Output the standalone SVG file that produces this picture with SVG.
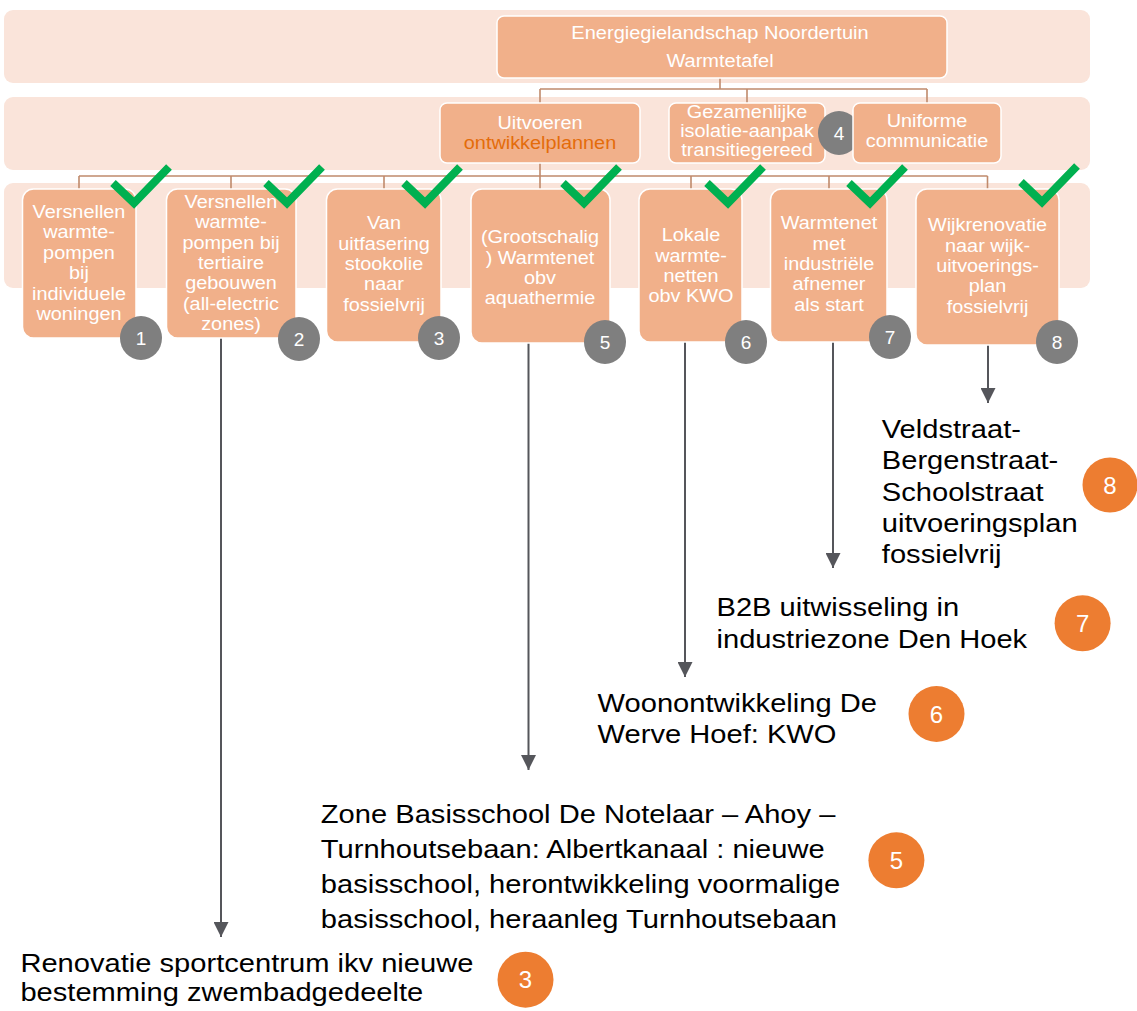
<svg xmlns="http://www.w3.org/2000/svg" width="1137" height="1011" viewBox="0 0 1137 1011">
<defs>
<style>
.band{fill:#FAE4DA}
.node{fill:#F1B08A;stroke:#FFFFFF;stroke-width:1.5}
.tree{fill:none;stroke:#C08A6C;stroke-width:1.6}
.arrow{fill:none;stroke:#55565B;stroke-width:2}
.check{fill:none;stroke:#00B050;stroke-width:8;stroke-linejoin:miter;stroke-miterlimit:10}
.gray{fill:#7F7F7F}
.orange{fill:#ED7D31}
.nt{font-family:"Liberation Sans",Arial,sans-serif;font-size:18.5px;fill:#FFFFFF;text-anchor:middle}
.tt{font-family:"Liberation Sans",Arial,sans-serif;font-size:19px;fill:#FFFFFF;text-anchor:middle}
.hl{fill:#E46C0A}
.bt{font-family:"Liberation Sans",Arial,sans-serif;font-size:26px;fill:#000000}
.gn{font-family:"Liberation Sans",Arial,sans-serif;font-size:19px;fill:#FFFFFF;text-anchor:middle}
.on{font-family:"Liberation Sans",Arial,sans-serif;font-size:24px;fill:#FFFFFF;text-anchor:middle}
</style>
<marker id="ah" viewBox="0 0 10 10" refX="10" refY="5" markerWidth="15" markerHeight="15" markerUnits="userSpaceOnUse" orient="auto">
<path d="M0,0 L10,5 L0,10 z" fill="#55565B"/>
</marker>
</defs>

<g id="bands">
<rect class="band" x="4" y="10" width="1086" height="73" rx="9"/>
<rect class="band" x="4" y="97" width="1086" height="73" rx="9"/>
<rect class="band" x="4" y="183" width="1086" height="105" rx="9"/>
</g>

<g id="connectors">
<path class="tree" d="M720,78 V89 M540,89 H927 M540,89 V103 M747,89 V103 M927,89 V103"/>
<path class="tree" d="M540,163 V176 M79,176 H987.5 M79,176 V189 M231,176 V189 M384,176 V189 M540,176 V189 M691,176 V189 M829,176 V189 M987.5,176 V189"/>
<line class="arrow" x1="221" y1="338" x2="221" y2="937" marker-end="url(#ah)"/>
<line class="arrow" x1="528.5" y1="343" x2="528.5" y2="770" marker-end="url(#ah)"/>
<line class="arrow" x1="685" y1="342" x2="685" y2="677" marker-end="url(#ah)"/>
<line class="arrow" x1="833" y1="342" x2="833" y2="568" marker-end="url(#ah)"/>
<line class="arrow" x1="988" y1="345" x2="988" y2="403" marker-end="url(#ah)"/>
</g>

<g id="node-top">
<rect class="node" x="497" y="16" width="450" height="62" rx="7"/>
<text class="tt" transform="translate(720 0) scale(1.055 1)"><tspan x="0" y="39.3">Energiegielandschap Noordertuin</tspan><tspan x="0" y="67.3">Warmtetafel</tspan></text>
</g>

<g id="node-uitvoeren">
<rect class="node" x="440" y="103" width="200" height="60" rx="7"/>
<text class="nt" transform="translate(540 0) scale(1.075 1)"><tspan x="0" y="129.5">Uitvoeren</tspan><tspan x="0" y="149.5" class="hl">ontwikkelplannen</tspan></text>
</g>

<g id="node-isolatie">
<rect class="node" x="669" y="103" width="156" height="60" rx="7"/>
<text class="nt" transform="translate(747 0) scale(1.075 1)"><tspan x="0" y="118.5">Gezamenlijke</tspan><tspan x="0" y="137.5">isolatie-aanpak</tspan><tspan x="0" y="156.5">transitiegereed</tspan></text>
<ellipse class="gray" cx="839" cy="133" rx="21" ry="22"/>
<text class="gn" x="839" y="139.8">4</text>
</g>

<g id="node-communicatie">
<rect class="node" x="853" y="103" width="148" height="60" rx="7"/>
<text class="nt" transform="translate(927 0) scale(1.075 1)"><tspan x="0" y="127">Uniforme</tspan><tspan x="0" y="147">communicatie</tspan></text>
</g>

<g id="node-1">
<rect class="node" x="22.5" y="189" width="113.5" height="149" rx="11"/>
<text class="nt" transform="translate(79 0) scale(1.075 1)"><tspan x="0" y="218">Versnellen</tspan><tspan x="0" y="238.5">warmte-</tspan><tspan x="0" y="259">pompen</tspan><tspan x="0" y="279.3">bij</tspan><tspan x="0" y="299.6">individuele</tspan><tspan x="0" y="320">woningen</tspan></text>
<polyline class="check" points="113,183 134,203 169,167"/>
<ellipse class="gray" cx="141" cy="338" rx="21" ry="22"/>
<text class="gn" x="141" y="344.8">1</text>
</g>

<g id="node-2">
<rect class="node" x="166.5" y="189" width="129.5" height="149" rx="11"/>
<text class="nt" transform="translate(231 0) scale(1.075 1)"><tspan x="0" y="208">Versnellen</tspan><tspan x="0" y="228.3">warmte-</tspan><tspan x="0" y="248.6">pompen bij</tspan><tspan x="0" y="269">tertiaire</tspan><tspan x="0" y="289.3">gebouwen</tspan><tspan x="0" y="309.6">(all-electric</tspan><tspan x="0" y="330">zones)</tspan></text>
<polyline class="check" points="266,183 287,203 322,167"/>
<ellipse class="gray" cx="299" cy="339" rx="21" ry="22"/>
<text class="gn" x="299" y="345.8">2</text>
</g>

<g id="node-3">
<rect class="node" x="326.5" y="189" width="114.5" height="153" rx="11"/>
<text class="nt" transform="translate(384 0) scale(1.075 1)"><tspan x="0" y="229.5">Van</tspan><tspan x="0" y="249.8">uitfasering</tspan><tspan x="0" y="270">stookolie</tspan><tspan x="0" y="290.3">naar</tspan><tspan x="0" y="310.6">fossielvrij</tspan></text>
<polyline class="check" points="404,183 425,203 460,167"/>
<ellipse class="gray" cx="439" cy="338" rx="21" ry="22"/>
<text class="gn" x="439" y="344.8">3</text>
</g>

<g id="node-5">
<rect class="node" x="471" y="189" width="139" height="154" rx="11"/>
<text class="nt" transform="translate(540 0) scale(1.075 1)"><tspan x="0" y="243.5">(Grootschalig</tspan><tspan x="0" y="263.8">) Warmtenet</tspan><tspan x="0" y="284">obv</tspan><tspan x="0" y="304.3">aquathermie</tspan></text>
<polyline class="check" points="563,183 584,203 619,167"/>
<ellipse class="gray" cx="605" cy="342" rx="21" ry="22"/>
<text class="gn" x="605" y="348.8">5</text>
</g>

<g id="node-6">
<rect class="node" x="639" y="189" width="103" height="153" rx="11"/>
<text class="nt" transform="translate(691 0) scale(1.075 1)"><tspan x="0" y="241.5">Lokale</tspan><tspan x="0" y="261.8">warmte-</tspan><tspan x="0" y="282">netten</tspan><tspan x="0" y="302.3">obv KWO</tspan></text>
<polyline class="check" points="707,183 728,203 763,167"/>
<ellipse class="gray" cx="746" cy="342" rx="21" ry="22"/>
<text class="gn" x="746" y="348.8">6</text>
</g>

<g id="node-7">
<rect class="node" x="770.5" y="189" width="116.5" height="153" rx="11"/>
<text class="nt" transform="translate(829 0) scale(1.075 1)"><tspan x="0" y="229.5">Warmtenet</tspan><tspan x="0" y="249.8">met</tspan><tspan x="0" y="270">industriële</tspan><tspan x="0" y="290.3">afnemer</tspan><tspan x="0" y="310.6">als start</tspan></text>
<polyline class="check" points="849,183 870,203 905,167"/>
<ellipse class="gray" cx="890" cy="337" rx="21" ry="22"/>
<text class="gn" x="890" y="343.8">7</text>
</g>

<g id="node-8">
<rect class="node" x="916" y="189" width="143" height="156" rx="11"/>
<text class="nt" transform="translate(987.5 0) scale(1.075 1)"><tspan x="0" y="231.5">Wijkrenovatie</tspan><tspan x="0" y="251.8">naar wijk-</tspan><tspan x="0" y="272">uitvoerings-</tspan><tspan x="0" y="292.3">plan</tspan><tspan x="0" y="312.6">fossielvrij</tspan></text>
<polyline class="check" points="1021,182 1042,202 1077,166"/>
<ellipse class="gray" cx="1057" cy="342" rx="21" ry="22"/>
<text class="gn" x="1057" y="348.8">8</text>
</g>

<g id="project-8">
<text class="bt" transform="translate(881.8 0) scale(1.12 1)"><tspan x="0" y="438.3">Veldstraat-</tspan><tspan x="0" y="469.5">Bergenstraat-</tspan><tspan x="0" y="500.7">Schoolstraat</tspan><tspan x="0" y="531.9">uitvoeringsplan</tspan><tspan x="0" y="563.1">fossielvrij</tspan></text>
<circle class="orange" cx="1110" cy="485" r="27.5"/>
<text class="on" x="1110" y="493.6">8</text>
</g>

<g id="project-7">
<text class="bt" transform="translate(716.5 0) scale(1.12 1)"><tspan x="0" y="616">B2B uitwisseling in</tspan><tspan x="0" y="648.3">industriezone Den Hoek</tspan></text>
<circle class="orange" cx="1082.6" cy="623.3" r="28"/>
<text class="on" x="1082.6" y="631.9">7</text>
</g>

<g id="project-6">
<text class="bt" transform="translate(597.6 0) scale(1.12 1)"><tspan x="0" y="711.7">Woonontwikkeling De</tspan><tspan x="0" y="743.3">Werve Hoef: KWO</tspan></text>
<circle class="orange" cx="936.5" cy="714" r="28"/>
<text class="on" x="936.5" y="722.6">6</text>
</g>

<g id="project-5">
<text class="bt" transform="translate(320.8 0) scale(1.12 1)"><tspan x="0" y="823.3">Zone Basisschool De Notelaar – Ahoy –</tspan><tspan x="0" y="858.1">Turnhoutsebaan: Albertkanaal : nieuwe</tspan><tspan x="0" y="892.9">basisschool, herontwikkeling voormalige</tspan><tspan x="0" y="927.7">basisschool, heraanleg Turnhoutsebaan</tspan></text>
<circle class="orange" cx="896.4" cy="860.3" r="28"/>
<text class="on" x="896.4" y="868.9">5</text>
</g>

<g id="project-3">
<text class="bt" transform="translate(20.4 0) scale(1.12 1)"><tspan x="0" y="972">Renovatie sportcentrum ikv nieuwe</tspan><tspan x="0" y="1001">bestemming zwembadgedeelte</tspan></text>
<circle class="orange" cx="525.5" cy="979.7" r="28"/>
<text class="on" x="525.5" y="988.3">3</text>
</g>
</svg>
